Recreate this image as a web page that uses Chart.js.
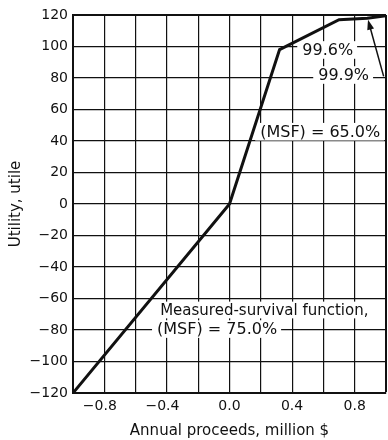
<!DOCTYPE html>
<html>
<head>
<meta charset="utf-8">
<script src="https://cdn.jsdelivr.net/npm/chart.js@4"></script>
<style>
  body { margin: 0; background: #fff; }
  #wrap { width: 388px; height: 440px; }
</style>
</head>
<body>
<div id="wrap"><canvas id="utilityChart"></canvas></div>
<script>
// utility curve
const proceeds = [-1.0, 0.0, 0.32, 0.70, 0.88, 1.0];
const utility = [-120, 0, 98, 117, 118, 119.5];

const xLabelled = [-0.8, -0.4, 0.0, 0.4, 0.8];

const notes = [
    { text: '99.6%', x: 0.465, y: 97.8, size: 16 },
    { text: '99.9%', x: 0.567, y: 81.9, size: 16 },
    { text: '(MSF) = 65.0%', x: 0.196, y: 45.9, size: 16 },
    { text: 'Measured-survival function,', x: -0.443, y: -67.3, size: 15 },
    { text: '(MSF) = 75.0%', x: -0.463, y: -79.4, size: 16 }
];
// arrow from the 99.9% label up to the curve
const arrowFrom = { x: 0.985, y: 81 };
const arrowTo = { x: 0.885, y: 117 };

const FONT = '"DejaVu Sans", sans-serif';

function minus(s) {
    return '\u2212' + s;
}

const notesPlugin = {
    id: 'notes',
    beforeDatasetsDraw(chart) {
        const ctx = chart.ctx;
        const xs = chart.scales.x, ys = chart.scales.y;
        ctx.save();
        ctx.textBaseline = 'middle';
        ctx.textAlign = 'left';
        notes.forEach(n => {
            ctx.font = n.size + 'px ' + FONT;
            const w = ctx.measureText(n.text).width;
            const px = xs.getPixelForValue(n.x);
            const py = ys.getPixelForValue(n.y);
            const h = n.size * 0.85;
            ctx.fillStyle = '#fff';
            ctx.fillRect(px - 5, py - h / 2 - 2, w + 9, h + 4);
            ctx.fillStyle = '#111';
            ctx.fillText(n.text, px, py + 1);
        });

        // arrow
        const x1 = xs.getPixelForValue(arrowFrom.x), y1 = ys.getPixelForValue(arrowFrom.y);
        const x2 = xs.getPixelForValue(arrowTo.x), y2 = ys.getPixelForValue(arrowTo.y);
        const a = Math.atan2(y2 - y1, x2 - x1);
        ctx.strokeStyle = '#111';
        ctx.lineWidth = 1.5;
        ctx.beginPath();
        ctx.moveTo(x1, y1);
        ctx.lineTo(x2 - 7 * Math.cos(a), y2 - 7 * Math.sin(a));
        ctx.stroke();
        ctx.fillStyle = '#111';
        ctx.beginPath();
        ctx.moveTo(x2, y2);
        ctx.lineTo(x2 - 10 * Math.cos(a) + 3.5 * Math.sin(a), y2 - 10 * Math.sin(a) - 3.5 * Math.cos(a));
        ctx.lineTo(x2 - 10 * Math.cos(a) - 3.5 * Math.sin(a), y2 - 10 * Math.sin(a) + 3.5 * Math.cos(a));
        ctx.closePath();
        ctx.fill();
        ctx.restore();
    }
};

const ctx = document.getElementById('utilityChart').getContext('2d');
new Chart(ctx, {
    type: 'scatter',
    data: {
        datasets: [{
            data: proceeds.map((p, i) => ({ x: p, y: utility[i] })),
            showLine: true,
            borderColor: '#111',
            borderWidth: 3,
            pointRadius: 0,
            tension: 0
        }]
    },
    options: {
        responsive: true,
        maintainAspectRatio: false,
        animation: false,
        layout: { padding: { top: 15, right: 2, left: 0, bottom: 0 } },
        plugins: {
            legend: { display: false },
            tooltip: { enabled: false }
        },
        scales: {
            x: {
                type: 'linear',
                min: -1.0,
                max: 1.0,
                afterFit(scale) {
                    scale.height = 47;
                    scale.paddingRight = 0;
                },
                border: { display: true, color: '#111', width: 2 },
                grid: {
                    color: '#111',
                    drawTicks: false,
                    lineWidth: c => (Math.abs(c.tick.value - 1) < 1e-6 ? 2 : 1.2)
                },
                ticks: {
                    stepSize: 0.2,
                    padding: 5,
                    color: '#111',
                    font: { family: FONT, size: 14 },
                    maxRotation: 0,
                    autoSkip: false,
                    callback(v) {
                        const r = Math.round(v * 10) / 10;
                        if (!xLabelled.some(l => Math.abs(l - r) < 1e-6)) return '';
                        if (r < 0) return minus(Math.abs(r).toFixed(1)) + '\u2007';
                        return r.toFixed(1);
                    }
                },
                title: {
                    display: true,
                    text: 'Annual proceeds, million $',
                    color: '#111',
                    font: { family: FONT, size: 15 },
                    padding: { top: 2, bottom: 0 }
                }
            },
            y: {
                min: -120,
                max: 120,
                afterFit(scale) { scale.width = 73; },
                border: { display: true, color: '#111', width: 2 },
                grid: {
                    color: '#111',
                    drawTicks: false,
                    lineWidth: c => (c.tick.value === 120 ? 2 : 1.2)
                },
                ticks: {
                    stepSize: 20,
                    padding: 5,
                    color: '#111',
                    font: { family: FONT, size: 14 },
                    callback(v) {
                        return v < 0 ? minus(String(Math.abs(v))) : String(v);
                    }
                },
                title: {
                    display: true,
                    text: 'Utility, utile',
                    color: '#111',
                    font: { family: FONT, size: 15 },
                    padding: { top: 7, bottom: 0 }
                }
            }
        }
    },
    plugins: [notesPlugin]
});
</script>
</body>
</html>
